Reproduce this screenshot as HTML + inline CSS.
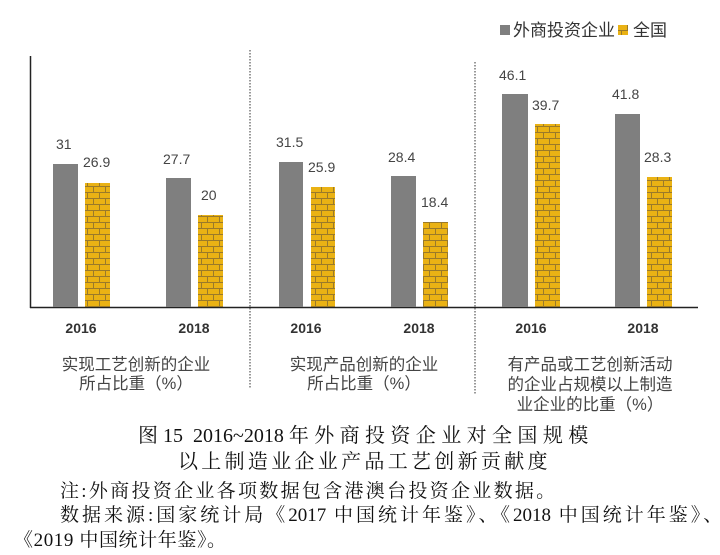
<!DOCTYPE html>
<html><head><meta charset="utf-8"><style>
body{margin:0;background:#fff;width:720px;height:555px;overflow:hidden;position:relative;font-family:"Liberation Sans","Noto Sans CJK SC",sans-serif}
.t{position:absolute;white-space:nowrap}
.serif{font-family:"Liberation Serif","Noto Serif CJK SC",serif;color:#111}
.d{letter-spacing:0}
</style></head><body>
<svg width="720" height="555" style="position:absolute;left:0;top:0" font-family="Liberation Sans, Noto Sans CJK SC, sans-serif">
<defs>
<pattern id="brick" width="12" height="12" patternUnits="userSpaceOnUse">
<rect width="12" height="12" fill="#EAB214"/>
<path d="M0 0.5H12M0 6.5H12M3.5 0V6M9.5 6V12" stroke="#9a7a2a" stroke-width="1"/>
</pattern>
</defs>
<line x1="30.5" y1="56" x2="30.5" y2="308" stroke="#222" stroke-width="1.5"/>
<line x1="30" y1="307.5" x2="698" y2="307.5" stroke="#222" stroke-width="1.5"/>
<line x1="250" y1="50" x2="250" y2="388" stroke="#333" stroke-dasharray="1.5,1.5"/>
<line x1="475" y1="62" x2="475" y2="395" stroke="#333" stroke-dasharray="1.5,1.5"/>
<g fill="#7f7f7f">
<rect x="53" y="164" width="25" height="143"/>
<rect x="166" y="178" width="25" height="129"/>
<rect x="279" y="162" width="24" height="145"/>
<rect x="391" y="176" width="25" height="131"/>
<rect x="502" y="94" width="26" height="213"/>
<rect x="615" y="114" width="25" height="193"/>
</g>
<g fill="url(#brick)">
<rect x="85" y="183" width="25" height="124"/>
<rect x="198" y="215" width="25" height="92"/>
<rect x="311" y="187" width="24" height="120"/>
<rect x="423" y="222" width="25" height="85"/>
<rect x="535" y="124" width="25" height="183"/>
<rect x="647" y="177" width="25" height="130"/>
</g>
<g fill="#444" font-size="14">
<text x="56" y="149">31</text><text x="83" y="167">26.9</text>
<text x="163" y="164">27.7</text><text x="201" y="200">20</text>
<text x="276" y="147">31.5</text><text x="308" y="172">25.9</text>
<text x="388" y="162">28.4</text><text x="421" y="207">18.4</text>
<text x="499" y="80">46.1</text><text x="532" y="110">39.7</text>
<text x="612" y="99">41.8</text><text x="644" y="162">28.3</text>
</g>
<g fill="#333" font-size="14" font-weight="bold" text-anchor="middle">
<text x="81" y="333">2016</text><text x="194" y="333">2018</text>
<text x="306" y="333">2016</text><text x="419" y="333">2018</text>
<text x="531" y="333">2016</text><text x="643" y="333">2018</text>
</g>
<g fill="#444" font-size="16.5" text-anchor="middle">
<text x="136" y="370">实现工艺创新的企业</text>
<text x="136" y="389">所占比重（%）</text>
<text x="364" y="370">实现产品创新的企业</text>
<text x="364" y="389">所占比重（%）</text>
<text x="590" y="370">有产品或工艺创新活动</text>
<text x="590" y="390">的企业占规模以上制造</text>
<text x="590" y="410">业企业的比重（%）</text>
</g>
<rect x="500" y="25" width="10" height="10" fill="#7f7f7f"/>
<rect x="618" y="25" width="10" height="10" fill="url(#brick)"/>
<g fill="#333" font-size="17"><text x="513" y="36">外商投资企业</text><text x="633" y="36">全国</text></g>
</svg>
<div class="t serif" style="left:138px;top:419px;font-size:20px;letter-spacing:5.4px"><span class="d">图 15&nbsp; 2016~2018 </span>年外商投资企业对全国规模</div>
<div class="t serif" style="left:178px;top:445px;font-size:20px;letter-spacing:3.3px">以上制造业企业产品工艺创新贡献度</div>
<div class="t serif" style="left:60px;top:476px;font-size:19px;letter-spacing:2.3px">注:外商投资企业各项数据包含港澳台投资企业数据。</div>
<div class="t serif" style="left:60px;top:500px;font-size:19px;letter-spacing:3px">数据来源:国家统计局《<span class="d">2017</span> 中国统计年鉴》、《<span class="d">2018</span> 中国统计年鉴》、</div>
<div class="t serif" style="left:14px;top:525px;font-size:19px;letter-spacing:0.6px">《2019 中国统计年鉴》。</div>
</body></html>
